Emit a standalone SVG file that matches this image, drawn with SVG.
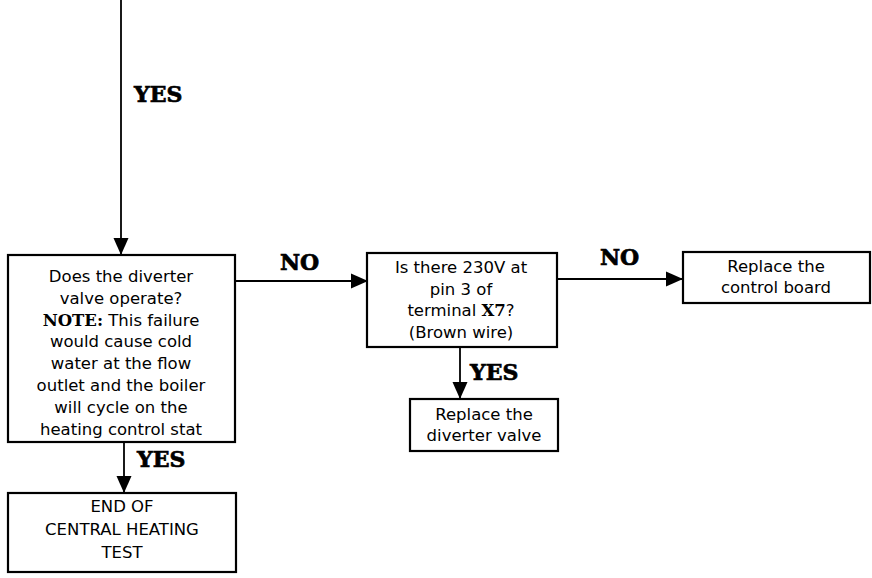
<svg xmlns="http://www.w3.org/2000/svg" width="872" height="578" viewBox="0 0 872 578">
<style>
.box{fill:#fff;stroke:#000;stroke-width:2.2}
.t{font-family:"DejaVu Sans",sans-serif;font-size:16.5px;text-anchor:middle;fill:#000}
.b{font-family:"DejaVu Serif",serif;font-weight:bold}
.lbl{font-family:"DejaVu Serif",serif;font-weight:bold;font-size:22px;fill:#000;stroke:#000;stroke-width:0.7}
.c{stroke:#000;stroke-width:1.8;fill:none;marker-end:url(#ah)}
</style>
<defs>
<marker id="ah" markerUnits="userSpaceOnUse" markerWidth="17" markerHeight="17" viewBox="0 0 17 17" refX="17" refY="8.5" orient="auto">
<path d="M0,1 L17,8.5 L0,16 Z" fill="#000"/>
</marker>
</defs>
<g id="connectors">
<line class="c" x1="121" y1="0" x2="121" y2="255"/>
<line class="c" x1="124" y1="442" x2="124" y2="493"/>
<line class="c" x1="235" y1="281" x2="368" y2="281"/>
<line class="c" x1="557" y1="279" x2="683" y2="279"/>
<line class="c" x1="460" y1="347" x2="460" y2="399"/>
<text class="lbl" x="134" y="102">YES</text>
<text class="lbl" x="137" y="467">YES</text>
<text class="lbl" x="280" y="270">NO</text>
<text class="lbl" x="600" y="265">NO</text>
<text class="lbl" x="470" y="380">YES</text>
</g>
<g id="n1">
<rect class="box" x="8" y="255" width="227" height="187"/>
<text class="t" x="121" y="282">Does the diverter</text>
<text class="t" x="121" y="303.8">valve operate?</text>
<text class="t" x="121" y="325.6"><tspan class="b">NOTE:</tspan> This failure</text>
<text class="t" x="121" y="347.4">would cause cold</text>
<text class="t" x="121" y="369.2">water at the flow</text>
<text class="t" x="121" y="391">outlet and the boiler</text>
<text class="t" x="121" y="412.8">will cycle on the</text>
<text class="t" x="121" y="434.6">heating control stat</text>
</g>
<g id="n2">
<rect class="box" x="8" y="493" width="228" height="79"/>
<text class="t" x="122" y="512">END OF</text>
<text class="t" x="122" y="535">CENTRAL HEATING</text>
<text class="t" x="122" y="558">TEST</text>
</g>
<g id="n3">
<rect class="box" x="367" y="253" width="190" height="94"/>
<text class="t" x="461" y="273">Is there 230V at</text>
<text class="t" x="461" y="294.7">pin 3 of</text>
<text class="t" x="461" y="316.4">terminal <tspan class="b">X7</tspan>?</text>
<text class="t" x="461" y="338">(Brown wire)</text>
</g>
<g id="n4">
<rect class="box" x="683" y="252" width="187" height="51"/>
<text class="t" x="776" y="272">Replace the</text>
<text class="t" x="776" y="293">control board</text>
</g>
<g id="n5">
<rect class="box" x="410" y="399" width="148" height="52"/>
<text class="t" x="484" y="420">Replace the</text>
<text class="t" x="484" y="441">diverter valve</text>
</g>
</svg>
